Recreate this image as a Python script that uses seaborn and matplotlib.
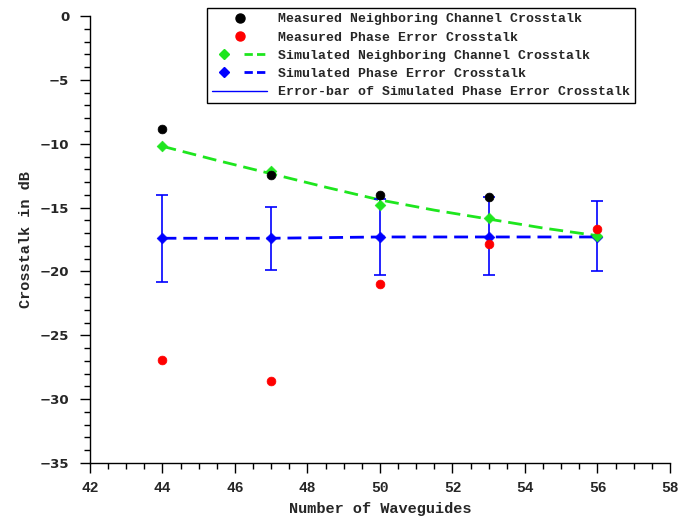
import numpy as np
import pandas as pd
import seaborn as sns
import matplotlib.pyplot as plt
from matplotlib.lines import Line2D
from matplotlib.legend_handler import HandlerTuple
from matplotlib.ticker import MultipleLocator

# values
waveguides = [44, 47, 50, 53, 56]
meas_neighbor_x = [44, 47, 50, 53]
meas_neighbor = [-8.85, -12.45, -14.05, -14.2]
meas_phase = [-26.95, -28.6, -21.0, -17.85, -16.7]
sim_neighbor = [-10.2, -12.15, -14.8, -15.8, -17.2]
sim_phase = [-17.4, -17.4, -17.3, -17.3, -17.3]
err_upper = [-14.0, -14.95, -14.3, -14.2, -14.5]
err_lower = [-20.8, -19.9, -20.3, -20.3, -20.0]
# dashed trend curve of the simulated neighboring channel crosstalk
curve_x = [44, 45.5, 47, 48.5, 50, 51.5, 53, 54.5, 56]
curve_y = [-10.2, -11.3, -12.35, -13.4, -14.4, -15.2, -15.9, -16.6, -17.2]

green = "#1ee61e"
blue = "#0000ff"

sns.set_theme(style="ticks")
plt.rcParams["font.family"] = ["Liberation Mono", "DejaVu Sans Mono"]
plt.rcParams["font.weight"] = "bold"

fig = plt.figure(figsize=(6.95, 5.17), dpi=100)
ax = fig.add_axes([0.1295, 0.1044, 0.8345, 0.8646])

sim = pd.DataFrame({"n": waveguides, "phase": sim_phase, "neighbor": sim_neighbor})
curve = pd.DataFrame({"n": curve_x, "y": curve_y})

sns.lineplot(data=curve, x="n", y="y", ax=ax, color=green, lw=2)
ax.lines[-1].set_dashes((5, 2.5))
ax.errorbar(waveguides, sim_phase,
            yerr=[np.array(sim_phase) - np.array(err_lower),
                  np.array(err_upper) - np.array(sim_phase)],
            fmt="none", ecolor=blue, elinewidth=1.2, capsize=4.5, capthick=1.2, zorder=2)
sns.lineplot(data=sim, x="n", y="phase", ax=ax, color=blue, lw=2)
ax.lines[-1].set_dashes((5, 2.5))
sns.scatterplot(x=waveguides, y=sim_phase, ax=ax, marker="D", color=blue, s=30,
                edgecolor=blue, zorder=4)
sns.scatterplot(x=waveguides, y=sim_neighbor, ax=ax, marker="D", color=green, s=30,
                edgecolor=green, zorder=4)
sns.scatterplot(x=meas_neighbor_x, y=meas_neighbor, ax=ax, color="black", s=40,
                edgecolor="black", zorder=5)
sns.scatterplot(x=waveguides, y=meas_phase, ax=ax, color="red", s=40,
                edgecolor="red", zorder=5)

ax.set_xlim(42, 58)
ax.set_ylim(-35, 0)
ax.xaxis.set_major_locator(MultipleLocator(2))
ax.xaxis.set_minor_locator(MultipleLocator(0.5))
ax.yaxis.set_major_locator(MultipleLocator(5))
ax.yaxis.set_minor_locator(MultipleLocator(1))
ax.set_xticks(range(42, 59, 2))
ax.set_xticklabels([str(v) for v in range(42, 59, 2)],
                   family="Liberation Mono", fontweight="bold", fontsize=10.5)
ax.tick_params(which="major", length=7, width=1, color="black")
ax.tick_params(axis="x", which="major", pad=6)
ax.tick_params(axis="y", which="major", pad=8, labelsize=9.5)
ax.tick_params(which="minor", length=4, width=1, color="black")
for lab in ax.get_yticklabels():
    lab.set_fontweight("bold")
    lab.set_family("DejaVu Sans")
sns.despine(ax=ax)
for s in ["left", "bottom"]:
    ax.spines[s].set_color("black")
    ax.spines[s].set_linewidth(1)

ax.set_xlabel("Number of Waveguides", fontsize=11, fontweight="bold", labelpad=5)
ax.set_ylabel("Crosstalk in dB", fontsize=11, fontweight="bold", labelpad=5)

h_mn = Line2D([], [], ls="none", marker="o", color="black", ms=6.5)
h_mp = Line2D([], [], ls="none", marker="o", color="red", ms=6.5)
h_sn = (Line2D([], [], ls="none", marker="D", color=green, ms=5),
        Line2D([], [], color=green, lw=2, dashes=(3, 1.5)))
h_sp = (Line2D([], [], ls="none", marker="D", color=blue, ms=5),
        Line2D([], [], color=blue, lw=2, dashes=(3, 1.5)))
h_eb = Line2D([], [], color=blue, lw=1)
leg = ax.legend([h_mn, h_mp, h_sn, h_sp, h_eb],
                ["Measured Neighboring Channel Crosstalk",
                 "Measured Phase Error Crosstalk",
                 "Simulated Neighboring Channel Crosstalk",
                 "Simulated Phase Error Crosstalk",
                 "Error-bar of Simulated Phase Error Crosstalk"],
                handler_map={tuple: HandlerTuple(ndivide=None, pad=0.6)},
                loc="upper right", bbox_to_anchor=(0.94, 1.018), borderaxespad=0,
                prop={"family": "Liberation Mono", "weight": "bold", "size": 9.5},
                handlelength=4.2, handletextpad=0.8, labelspacing=0.45,
                fancybox=False, edgecolor="black", framealpha=1)
leg.get_frame().set_linewidth(1)

fig.savefig("out.png", dpi=100)
